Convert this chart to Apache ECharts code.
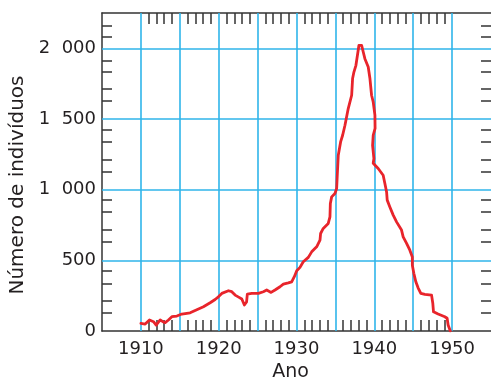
<!DOCTYPE html>
<html>
<head>
<meta charset="utf-8">
<script src="https://cdn.jsdelivr.net/npm/echarts@6/dist/echarts.min.js"></script>
<style>
  html, body { margin: 0; padding: 0; background: #fff; }
  #chart { width: 491px; height: 380px; }
</style>
</head>
<body>
<div id="chart"></div>
<script>
// Population curve, sampled along the drawn line
const years = [
  1910.00,1910.55,1911.10,1911.62,1911.96,1912.48,1912.82,1913.12,1913.54,1913.98,
  1914.62,1915.26,1916.33,1916.97,1918.04,1918.90,1919.54,1919.96,1920.40,1921.25,
  1921.68,1922.11,1922.62,1922.97,1923.30,1923.58,1923.68,1924.25,1925.10,1925.74,
  1926.17,1926.73,1927.24,1927.88,1928.31,1928.95,1929.38,1929.72,1930.03,1930.45,
  1930.87,1931.52,1931.95,1932.59,1933.02,1933.10,1933.44,1934.08,1934.30,1934.35,
  1934.52,1934.94,1935.16,1935.24,1935.37,1935.67,1935.93,1936.23,1936.65,1937.09,
  1937.21,1937.38,1937.64,1937.93,1938.02,1938.37,1938.58,1938.79,1939.22,1939.44,
  1939.65,1939.86,1940.08,1940.10,1939.86,1939.78,1939.95,1939.86,1940.50,1941.14,
  1941.36,1941.58,1941.66,1942.00,1942.43,1942.86,1943.50,1943.71,1944.15,1944.57,
  1944.89,1944.89,1945.08,1945.34,1945.64,1945.98,1946.50,1947.36,1947.52,1947.61,
  1948.20,1949.06,1949.36,1949.49,1949.77
];
const individuals = [
  54,49,78,66,42,78,66,59,78,101,
  106,120,129,145,172,200,223,242,266,285,
  278,254,238,226,184,205,261,266,266,278,
  290,273,290,313,332,341,348,384,426,450,
  490,521,560,596,643,690,726,761,808,902,
  949,973,1008,1102,1244,1338,1385,1456,1574,1668,
  1786,1832,1880,1986,2021,2021,1974,1927,1868,1786,
  1668,1620,1527,1433,1385,1314,1220,1187,1150,1102,
  1044,984,926,878,820,772,714,666,620,572,
  523,466,408,348,304,266,259,254,196,136,
  120,101,90,42,0
];

// Axis labels
const yearLabels = [1910, 1920, 1930, 1940, 1950];
const countLabels = { 0: '0', 500: '500', 1000: '1\u2007000', 1500: '1\u2007500', 2000: '2\u2007000' };

// Blue reference grid
const gridYears = [1910, 1915, 1920, 1925, 1930, 1935, 1940, 1945, 1950];
const gridCounts = [500, 1000, 1500, 2000];

// Small tick marks
const yearTicks = [];
for (let y = 1911; y <= 1949; y++) if (y % 5 !== 0) yearTicks.push(y);
const countTicks = [132, 214, 337, 426, 631, 714, 841, 926, 1126, 1209, 1338, 1421, 1626, 1711, 1831, 1915, 2085, 2163];
const yearTickHeight = 78; // height of the bottom year ticks, in individuals

const FONT = 'DejaVu Sans';
const TEXT = '#231f20';
const GRID = '#2fb5ea';
const AXIS = '#333333';

const X_RANGE = { min: 1905, max: 1955 };
const Y_RANGE = { min: 0, max: 2250 };

const tickStyle = (ticks, len) => ({
  show: true, inside: true, length: len, customValues: ticks,
  lineStyle: { color: AXIS, width: 1.5 }
});
const axisLineStyle = () => ({ show: true, onZero: false, lineStyle: { color: AXIS, width: 1.5 } });

const chart = echarts.init(document.getElementById('chart'), null, { renderer: 'canvas' });
chart.setOption({
  animation: false,
  backgroundColor: '#ffffff',
  grid: { left: 102, right: 0, top: 13, bottom: 49, containLabel: false, outerBoundsMode: 'none' },
  xAxis: [
    {
      type: 'value', position: 'bottom', min: X_RANGE.min, max: X_RANGE.max, interval: 5,
      name: 'Ano', nameLocation: 'middle', nameGap: 30,
      nameTextStyle: { fontFamily: FONT, fontSize: 19, color: TEXT, padding: [0, 12, 0, 0] },
      axisLine: axisLineStyle(),
      axisTick: { show: false },
      axisLabel: {
        margin: 9, fontFamily: FONT, fontSize: 18, color: TEXT,
        formatter: v => (yearLabels.indexOf(v) >= 0 ? String(v) : '')
      },
      splitLine: { show: false }
    },
    {
      type: 'value', position: 'top', min: X_RANGE.min, max: X_RANGE.max,
      axisLine: axisLineStyle(),
      axisTick: tickStyle(yearTicks, 11),
      axisLabel: { show: false },
      splitLine: { show: false }
    }
  ],
  yAxis: [
    {
      type: 'value', position: 'left', min: Y_RANGE.min, max: Y_RANGE.max, interval: 500,
      name: 'Número de indivíduos', nameLocation: 'middle', nameGap: 68,
      nameTextStyle: { fontFamily: FONT, fontSize: 20, color: TEXT, padding: [0, 26, 0, 0] },
      axisLine: axisLineStyle(),
      axisTick: tickStyle(countTicks, 10),
      axisLabel: {
        margin: 6, fontFamily: FONT, fontSize: 18, color: TEXT,
        formatter: v => (countLabels[v] !== undefined ? countLabels[v] : '')
      },
      splitLine: { show: false }
    },
    {
      type: 'value', position: 'right', min: Y_RANGE.min, max: Y_RANGE.max,
      axisLine: { show: false, onZero: false },
      axisTick: tickStyle(countTicks, 10),
      axisLabel: { show: false },
      splitLine: { show: false }
    }
  ],
  series: [
    {
      // grid lines as reference lines on the value scales
      type: 'line',
      xAxisIndex: 0, yAxisIndex: 0,
      data: [],
      z: 1,
      markLine: {
        silent: true,
        symbol: ['none', 'none'],
        label: { show: false },
        lineStyle: { color: GRID, width: 1.6, type: 'solid' },
        data: gridYears.map(v => ({ xAxis: v })).concat(gridCounts.map(v => ({ yAxis: v })))
      }
    },
    {
      // short inward year ticks standing on the bottom axis
      type: 'line',
      xAxisIndex: 0, yAxisIndex: 0,
      data: [],
      z: 4,
      markLine: {
        silent: true,
        symbol: ['none', 'none'],
        label: { show: false },
        lineStyle: { color: AXIS, width: 1.5, type: 'solid' },
        data: yearTicks.map(v => [{ coord: [v, Y_RANGE.min] }, { coord: [v, Y_RANGE.min + yearTickHeight] }])
      }
    },
    {
      type: 'line',
      xAxisIndex: 0, yAxisIndex: 0,
      data: years.map((y, i) => [y, individuals[i]]),
      showSymbol: false,
      smooth: false,
      lineStyle: { color: '#e8242b', width: 2.8, join: 'round', cap: 'round' },
      z: 5
    }
  ]
});
</script>
</body>
</html>
